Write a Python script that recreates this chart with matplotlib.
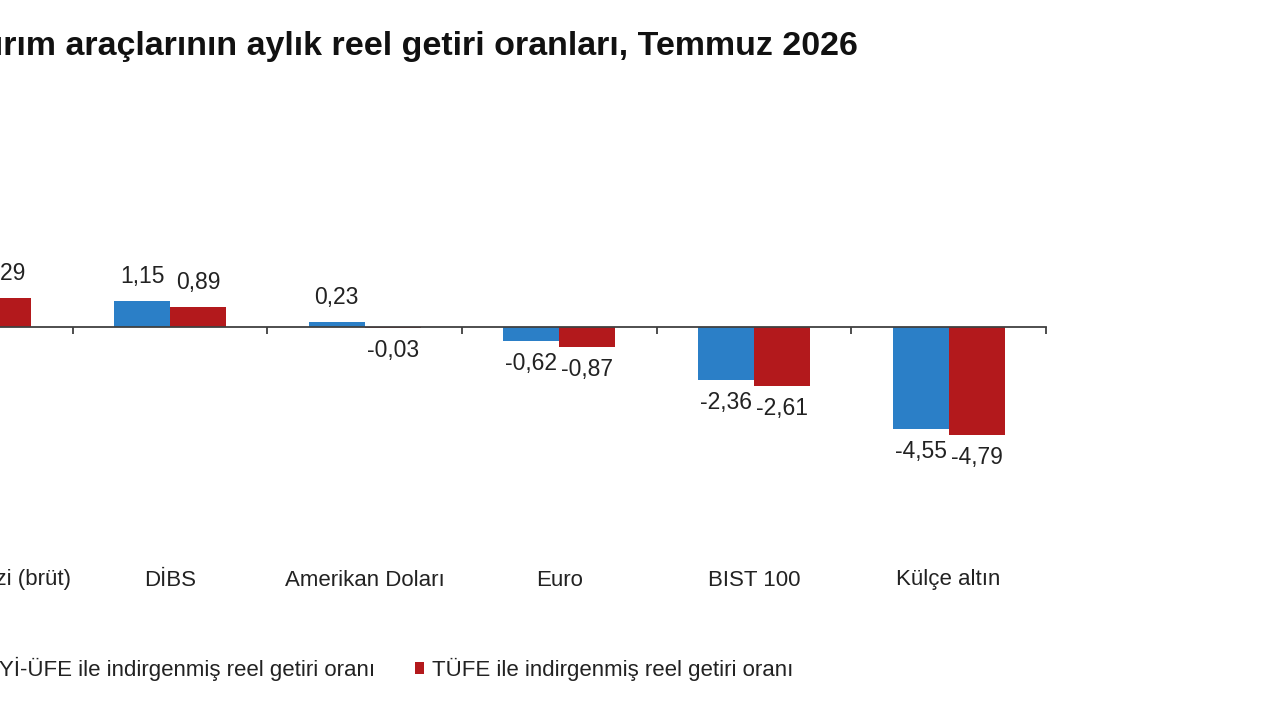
import matplotlib
matplotlib.use("Agg")
import matplotlib.pyplot as plt
import matplotlib.transforms as mtransforms
import numpy as np

plt.rcParams['font.family'] = ['Liberation Sans', 'DejaVu Sans']

title = "Yatırım araçlarının aylık reel getiri oranları, Temmuz 2026"
categories = ["Mevduat faizi (brüt)", "DİBS", "Amerikan Doları", "Euro", "BIST 100", "Külçe altın"]
yi_ufe = [1.54, 1.15, 0.23, -0.62, -2.36, -4.55]
tufe = [1.29, 0.89, -0.03, -0.87, -2.61, -4.79]
series_names = ["Yİ-ÜFE ile indirgenmiş reel getiri oranı", "TÜFE ile indirgenmiş reel getiri oranı"]

BLUE = "#2b7fc7"
RED = "#b3191c"
TXT = "#222222"

W, H = 1280, 720
fig = plt.figure(figsize=(W/100, H/100), dpi=100)
fig.patch.set_facecolor("white")

# axes: x from -122 px to 1046 px; zero at y=327 px, 22.5 px per unit
ymin, ymax = -8, 6
ppu = 22.5
top_px = 327 - ymax*ppu
bot_px = 327 - ymin*ppu
ax = fig.add_axes([-122/W, 1 - bot_px/H, (1046+122)/W, (bot_px-top_px)/H])
ax.set_xlim(-0.5, len(categories)-0.5)
ax.set_ylim(ymin, ymax)

x = np.arange(len(categories))
bw = 0.287
b1 = ax.bar(x - bw/2, yi_ufe, bw, color=BLUE, label=series_names[0], zorder=2)
b2 = ax.bar(x + bw/2, tufe, bw, color=RED, label=series_names[1], zorder=2)

def fmt(v):
    return f"{v:.2f}".replace(".", ",")

for bars, vals in ((b1, yi_ufe), (b2, tufe)):
    for rect, v in zip(bars, vals):
        cx = rect.get_x() + rect.get_width()/2
        if v >= 0:
            ax.annotate(fmt(v), (cx, v), xytext=(0, 9.5), textcoords="offset points",
                        ha="center", va="bottom", fontsize=16.5, color=TXT)
        else:
            ax.annotate(fmt(v), (cx, v), xytext=(0, -8), textcoords="offset points",
                        ha="center", va="top", fontsize=16.5, color=TXT)

for s in ["top", "right", "left"]:
    ax.spines[s].set_visible(False)
ax.spines["bottom"].set_position(("data", 0))
ax.spines["bottom"].set_color("#404040")
ax.spines["bottom"].set_linewidth(1.3)
ax.set_yticks([])
ax.set_xticks(np.arange(len(categories)+1) - 0.5)
ax.set_xticklabels([])
ax.tick_params(axis="x", direction="out", length=5, width=1.3, color="#404040")

trans = mtransforms.blended_transform_factory(ax.transData, fig.transFigure)
for xi, c in zip(x, categories):
    ax.text(xi, 1 - 580/H, c, transform=trans, ha="center", va="center",
            fontsize=16, color=TXT)

fig.text(858/W, 1 - 46/H, title, ha="right", va="center", fontsize=24.5,
         fontweight="bold", color="#111111")

leg = fig.legend(handles=[b1, b2], labels=series_names, loc="center right",
                 bbox_to_anchor=(800/W, 1 - 669/H), ncol=2, frameon=False,
                 fontsize=16, handlelength=0.42, handleheight=0.45,
                 handletextpad=0.35, columnspacing=1.8, labelcolor=TXT,
                 borderpad=0.3, borderaxespad=0)

fig.savefig("out.png", dpi=100)
